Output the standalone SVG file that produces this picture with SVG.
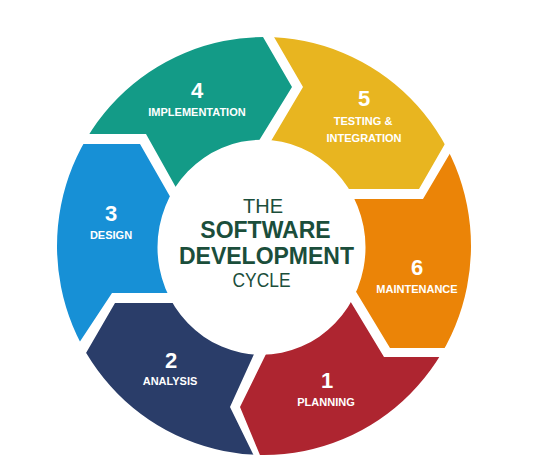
<svg xmlns="http://www.w3.org/2000/svg" width="537" height="464" viewBox="0 0 537 464">
  <style>
    .num { font-family: "Liberation Sans", Arial, sans-serif; font-weight: bold; font-size: 22px; fill: #ffffff; text-anchor: middle; }
    .lbl { font-family: "Liberation Sans", Arial, sans-serif; font-weight: bold; font-size: 11px; fill: #ffffff; text-anchor: middle; }
    .ctr { font-family: "Liberation Sans", Arial, sans-serif; fill: #1b4e3b; text-anchor: middle; }
    .ctr-reg { font-size: 20px; }
    .ctr-bold { font-size: 23px; font-weight: bold; }
  </style>
  <defs>
    <!-- ring between the outer rim and the white hub -->
    <clipPath id="ring">
      <path clip-rule="evenodd" d="M57,246 A207,209 0 1 0 471,246 A207,209 0 1 0 57,246 Z M157.5,247.3 A104,107.5 0 1 0 365.5,247.3 A104,107.5 0 1 0 157.5,247.3 Z"/>
    </clipPath>
  </defs>
  <rect width="537" height="464" fill="#ffffff"/>

  <g clip-path="url(#ring)">
    <g id="stage-1">
      <polygon fill="#ae2530" points="262,247 337.2,279.6 384,357 500,357 514.8,459.1 401.5,546.1 262,577 272,484 240,407 279,327.5"/>
    </g>
    <g id="stage-2">
      <polygon fill="#2a3d69" points="262,247 267.5,324.5 230,407 266.8,482.2 204.7,572 72.7,517.3 -23.8,412 75,372 115,303 200,303"/>
    </g>
    <g id="stage-3">
      <polygon fill="#1790d6" points="262,247 200,293 112,293 62.5,368 -48.1,359.9 -66.7,218.2 -23.8,82 40,144 140,144 196,242"/>
    </g>
    <g id="stage-4">
      <polygon fill="#139b87" points="262,247 202,234 146,134 40,134 9.2,34.9 122.5,-52.1 262,-83 245.6,7 292,87 239,173"/>
    </g>
    <g id="stage-5">
      <polygon fill="#e8b520" points="262,247 251.8,173.4 303,87 256.6,7 319.3,-78 451.3,-23.3 547.8,82 465,109 419,189 320,189"/>
    </g>
    <g id="stage-6">
      <polygon fill="#eb8407" points="262,247 320,199 423,199 469.4,120.6 572.1,134.1 592,247 572.1,359.9 500,348 390,348 343.2,270.6"/>
    </g>
  </g>

  <!-- stage labels -->
  <g id="label-1"><text class="num" x="327" y="388">1</text><text class="lbl" x="326" y="406">PLANNING</text></g>
  <g id="label-2"><text class="num" x="171" y="368">2</text><text class="lbl" x="170" y="385">ANALYSIS</text></g>
  <g id="label-3"><text class="num" x="111" y="221">3</text><text class="lbl" x="111" y="239">DESIGN</text></g>
  <g id="label-4"><text class="num" x="197" y="98">4</text><text class="lbl" x="197" y="116">IMPLEMENTATION</text></g>
  <g id="label-5"><text class="num" x="364" y="106">5</text><text class="lbl" x="363" y="125">TESTING &amp;</text><text class="lbl" x="364" y="142">INTEGRATION</text></g>
  <g id="label-6"><text class="num" x="417" y="275">6</text><text class="lbl" x="417" y="293">MAINTENANCE</text></g>

  <!-- hub title -->
  <g id="title">
    <text class="ctr ctr-reg" x="263" y="213">THE</text>
    <text class="ctr ctr-bold" x="265.5" y="238">SOFTWARE</text>
    <text class="ctr ctr-bold" x="266.5" y="264">DEVELOPMENT</text>
    <text class="ctr ctr-reg" x="261.5" y="286.5" textLength="58" lengthAdjust="spacingAndGlyphs">CYCLE</text>
  </g>
</svg>
